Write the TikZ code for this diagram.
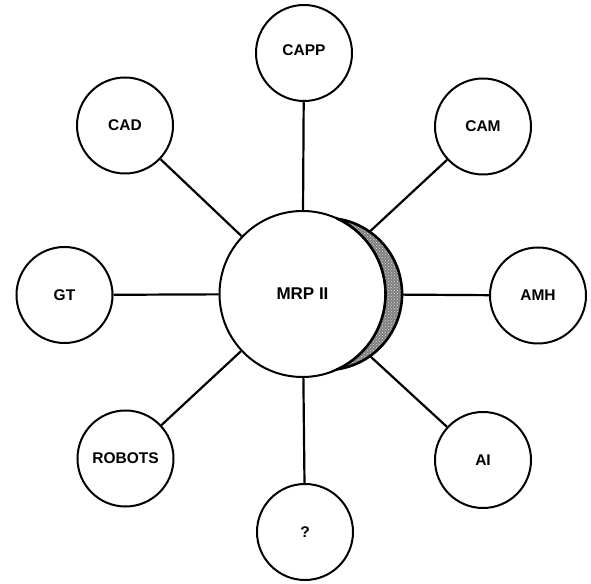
\documentclass[tikz,border=0pt]{standalone}
\usepackage{fontspec}
\setmainfont{Liberation Sans}
\usetikzlibrary{backgrounds,patterns}
\tikzset{
  sat/.style={circle,draw=black,line width=2pt,fill=white,minimum size=96pt,inner sep=0pt,
    font=\fontsize{15.5}{16}\selectfont\bfseries},
  hub/.style={circle,draw=black,line width=2pt,fill=white,minimum size=166pt,inner sep=0pt,
    font=\fontsize{17}{18}\selectfont\bfseries},
  conn/.style={draw=black,line width=2.2pt},
  shade/.style={draw=black,line width=2.6pt,preaction={fill=black!50},pattern=crosshatch dots,pattern color=white!85!black}
}
\begin{document}
\begin{tikzpicture}[x=1pt,y=1pt]
\useasboundingbox (0,0) rectangle (591,583);
\node[hub] (mrp) at (302.5,289) {MRP II};
\node[sat] (capp) at (304,530) {\raisebox{5pt}{CAPP}};
\node[sat] (cad) at (125,457.5) {CAD};
\node[sat] (cam) at (483,456.5) {CAM};
\node[sat] (gt) at (64.5,288) {GT};
\node[sat] (amh) at (538,287.5) {AMH};
\node[sat] (rob) at (125.5,124.5) {ROBOTS};
\node[sat] (ai) at (483,123) {AI};
\node[sat] (q) at (305,51) {?};
\begin{pgfonlayer}{background}
\draw[conn] (mrp) -- (capp);
\draw[conn] (mrp) -- (cad);
\draw[conn] (mrp) -- (cam);
\draw[conn] (mrp) -- (gt);
\draw[conn] (mrp) -- (amh);
\draw[conn] (mrp) -- (rob);
\draw[conn] (mrp) -- (ai);
\draw[conn] (mrp) -- (q);
\end{pgfonlayer}
\path[shade] ([shift={(65:83)}]mrp.center) arc[start angle=65,end angle=-65,radius=83]
  arc[start angle=-81.2,end angle=81.2,radius=76.1] -- cycle;
\end{tikzpicture}
\end{document}
